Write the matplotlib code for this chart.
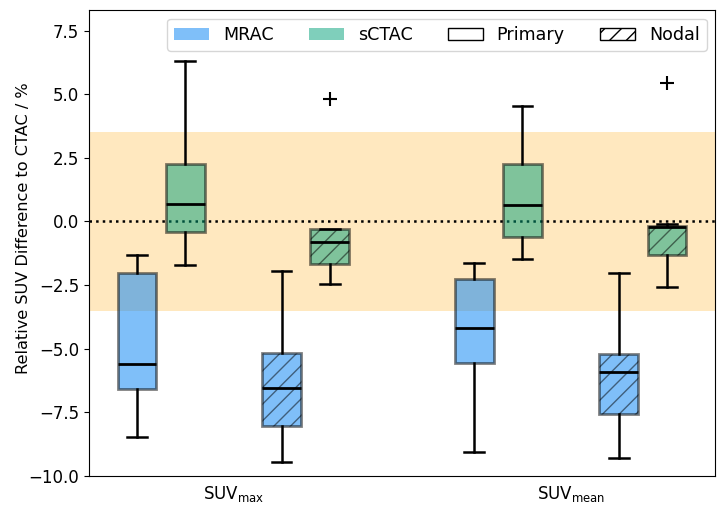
import numpy as np
import matplotlib
matplotlib.use('Agg')
import matplotlib.pyplot as plt
from matplotlib.patches import Patch

# box statistics, order: SUVmax, SUVmean
groups = [r'SUV$_{\mathrm{max}}$', r'SUV$_{\mathrm{mean}}$']
series = ['MRAC', 'sCTAC', 'MRAC', 'sCTAC']
sites = ['Primary', 'Primary', 'Nodal', 'Nodal']
medians = [[-5.60, -4.20], [0.67, 0.63], [-6.54, -5.91], [-0.81, -0.22]]
q1 = [[-6.59, -5.58], [-0.42, -0.62], [-8.03, -7.57], [-1.69, -1.33]]
q3 = [[-2.02, -2.28], [2.24, 2.27], [-5.18, -5.21], [-0.29, -0.16]]
whislo = [[-8.45, -9.04], [-1.72, -1.47], [-9.44, -9.28], [-2.44, -2.56]]
whishi = [[-1.33, -1.64], [6.31, 4.53], [-1.96, -2.03], [-0.29, -0.12]]
fliers = [[[], []], [[], []], [[], []], [[4.80], [5.44]]]

colors = {'MRAC': '#0080f5', 'sCTAC': '#00a078'}
hatches = {'Primary': '', 'Nodal': '//'}
offsets = [-0.286, -0.143, 0.143, 0.286]
box_w = 0.115
alpha = 0.5

plt.rcParams['font.size'] = 12
plt.rcParams['hatch.linewidth'] = 1.0

fig = plt.figure(figsize=(7.26, 5.08), dpi=100)
ax = fig.add_axes([0.1226, 0.063, 0.8627, 0.917])

ax.axhspan(-3.5, 3.5, color='orange', alpha=0.25, lw=0, zorder=0)
ax.axhline(0, color='black', ls=':', lw=1.8, zorder=1)

for s in range(len(series)):
    stats = []
    pos = []
    for g in range(len(groups)):
        stats.append(dict(med=medians[s][g], q1=q1[s][g], q3=q3[s][g],
                          whislo=whislo[s][g], whishi=whishi[s][g],
                          fliers=fliers[s][g]))
        pos.append(g + 1 + offsets[s])
    bp = ax.bxp(stats, positions=pos, widths=box_w, patch_artist=True,
                showfliers=True, manage_ticks=False,
                boxprops=dict(linewidth=2),
                medianprops=dict(color='black', linewidth=2),
                whiskerprops=dict(color='black', linewidth=1.8),
                capprops=dict(color='black', linewidth=1.8),
                flierprops=dict(marker='+', markersize=10,
                                markeredgecolor='black', markeredgewidth=1.5))
    for b in bp['boxes']:
        b.set_facecolor(colors[series[s]])
        b.set_edgecolor('black')
        b.set_alpha(alpha)
        b.set_hatch(hatches[sites[s]])
        b.set_zorder(2)

ax.set_xlim(0.572, 2.429)
ax.set_ylim(-10, 8.3)
ax.set_xticks([1, 2])
ax.set_xticklabels(groups)
ax.tick_params(axis='x', length=0, pad=6)
ax.set_yticks(np.arange(-10, 7.6, 2.5))
ax.set_ylabel('Relative SUV Difference to CTAC / %', fontsize=11.6)
ax.yaxis.set_label_coords(-0.0926, 0.532)

handles = [Patch(facecolor=colors['MRAC'], alpha=alpha, label='MRAC'),
           Patch(facecolor=colors['sCTAC'], alpha=alpha, label='sCTAC'),
           Patch(facecolor='white', edgecolor='black', label='Primary'),
           Patch(facecolor='white', edgecolor='black', hatch='//', label='Nodal')]
ax.legend(handles=handles, loc='upper right', ncol=4, fontsize=12.6)

fig.savefig('out.png', dpi=100)
